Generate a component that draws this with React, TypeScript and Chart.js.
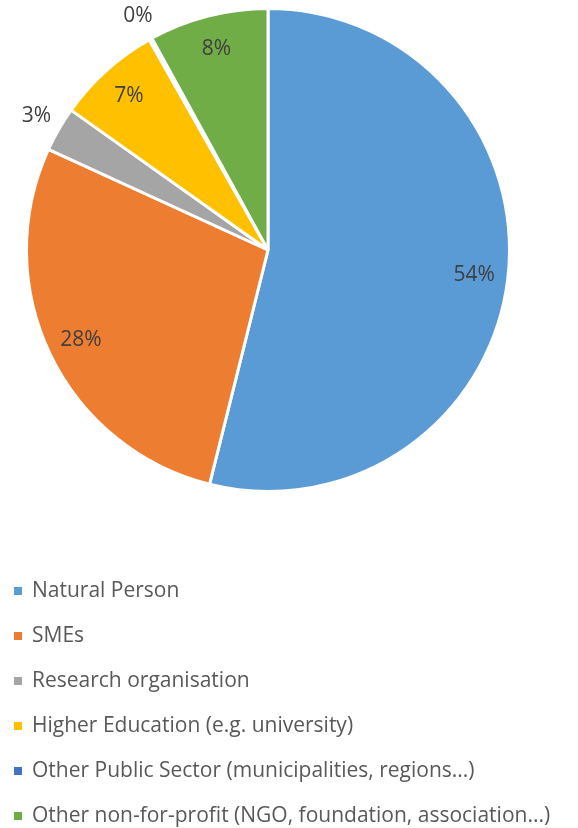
import React, { useEffect, useRef } from "react";
import { Chart, registerables } from "chart.js";

Chart.register(...registerables);

const categories = [
  "Natural Person",
  "SMEs",
  "Research organisation",
  "Higher Education (e.g. university)",
  "Other Public Sector (municipalities, regions...)",
  "Other non-for-profit (NGO, foundation, association...)",
];
const values = [54, 28, 3, 7, 0.2, 8];
const valueLabels = ["54%", "28%", "3%", "7%", "0%", "8%"];
const colors = ["#5B9BD5", "#ED7D31", "#A5A5A5", "#FFC000", "#4472C4", "#70AD47"];

const FONT = "'Open Sans', sans-serif";

const labelPlugin = {
  id: "sliceLabels",
  afterDatasetsDraw(chart: any) {
    const ctx = chart.ctx;
    const meta = chart.getDatasetMeta(0);
    ctx.save();
    ctx.font = `21px ${FONT}`;
    ctx.fillStyle = "#404040";
    ctx.textAlign = "center";
    ctx.textBaseline = "middle";
    meta.data.forEach((arc: any, i: number) => {
      const { x, y, startAngle, endAngle, outerRadius } = arc.getProps(
        ["x", "y", "startAngle", "endAngle", "outerRadius"],
        true
      );
      const mid = (startAngle + endAngle) / 2;
      const v = values[i];
      const r = v < 5 ? outerRadius + 26 : outerRadius * 0.86;
      ctx.fillText(valueLabels[i], x + Math.cos(mid) * r, y + Math.sin(mid) * r);
    });
    ctx.restore();
  },
};

const legendPlugin = {
  id: "listLegend",
  afterDraw(chart: any) {
    const ctx = chart.ctx;
    ctx.save();
    ctx.font = `21px ${FONT}`;
    ctx.textBaseline = "middle";
    ctx.textAlign = "left";
    const y0 = 591;
    const step = 45;
    categories.forEach((c, i) => {
      const y = y0 + i * step;
      ctx.fillStyle = colors[i];
      ctx.fillRect(14, y - 4, 8, 8);
      ctx.fillStyle = "#595959";
      ctx.fillText(c, 32, y);
    });
    ctx.restore();
  },
};

export default function App() {
  const ref = useRef<HTMLCanvasElement | null>(null);
  useEffect(() => {
    document.body.style.margin = "0";
    const chart = new Chart(ref.current!, {
      type: "pie",
      data: {
        labels: categories,
        datasets: [
          {
            data: values,
            backgroundColor: colors,
            borderColor: "#FFFFFF",
            borderWidth: 3,
          },
        ],
      },
      options: {
        animation: false,
        responsive: false,
        layout: { padding: { top: 7, left: 25, right: 67, bottom: 335 } },
        plugins: {
          legend: { display: false },
          tooltip: { enabled: false },
        },
      },
      plugins: [labelPlugin, legendPlugin],
    });
    return () => chart.destroy();
  }, []);
  return (
    <div style={{ width: 578, height: 828, background: "#fff" }}>
      <canvas ref={ref} width={578} height={828} />
    </div>
  );
}
